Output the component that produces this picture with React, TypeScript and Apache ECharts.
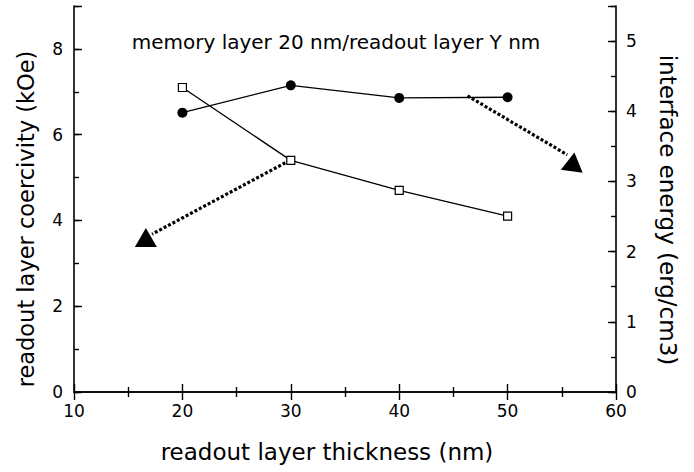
import { useEffect, useRef } from "react";
import * as echarts from "echarts";

// ---- data ----
const thickness = [20, 30, 40, 50];
const coercivity = [7.1, 5.4, 4.7, 4.1]; // kOe, left axis (open squares)
const interfaceEnergy = [3.98, 4.37, 4.19, 4.2]; // erg/cm3, right axis (filled circles)

// annotation arrows (data coordinates)
const leftArrowLine = [
  [29.9, 5.4],
  [17.2, 3.68],
];
const leftArrowHead = [16.63, 3.6];
const rightArrowLine = [
  [46.3, 4.22],
  [55.5, 3.38],
];
const rightArrowHead = [56.04, 3.28];

const xRange = [10, 60];
const leftRange = [0, 9];
const rightRange = [0, 5.5];

const titleText = "memory layer 20 nm/readout layer Y nm";
const xName = "readout layer thickness (nm)";
const leftName = "readout layer coercivity (kOe)";
const rightName = "interface energy (erg/cm3)";

const FONT = "DejaVu Sans";
const BLACK = "#000";

export default function App() {
  const ref = useRef<HTMLDivElement>(null);

  useEffect(() => {
    document.body.style.margin = "0";
    document.body.style.overflow = "hidden";
    if (!ref.current) return;
    const chart = echarts.init(ref.current, null, { renderer: "svg" });

    const axisLine = { show: true, lineStyle: { color: BLACK, width: 1.6 } };
    const labelStyle = { color: BLACK, fontSize: 17, fontFamily: FONT };

    const option: any = {
      animation: false,
      backgroundColor: "#fff",
      grid: { left: 74, right: 78, top: 6, bottom: 80, containLabel: false },
      xAxis: [
        {
          type: "value",
          position: "bottom",
          min: xRange[0],
          max: xRange[1],
          interval: 10,
          axisLine,
          axisTick: { show: true, inside: true, length: 8, lineStyle: { color: BLACK, width: 1.4 } },
          minorTick: { show: true, splitNumber: 2, length: 5, lineStyle: { color: BLACK, width: 1.4 } },
          splitLine: { show: false },
          minorSplitLine: { show: false },
          axisLabel: { ...labelStyle, margin: 10 },
        },
        {
          type: "value",
          position: "top",
          min: xRange[0],
          max: xRange[1],
          interval: 10,
          axisLine,
          axisTick: { show: true, inside: true, length: 8, lineStyle: { color: BLACK, width: 1.4 } },
          minorTick: { show: true, splitNumber: 2, length: 5, lineStyle: { color: BLACK, width: 1.4 } },
          splitLine: { show: false },
          axisLabel: { show: false },
        },
      ],
      yAxis: [
        {
          type: "value",
          position: "left",
          min: leftRange[0],
          max: leftRange[1],
          interval: 2,
          axisLine,
          axisTick: { show: true, inside: true, length: 8, lineStyle: { color: BLACK, width: 1.4 } },
          splitLine: { show: false },
          axisLabel: {
            ...labelStyle,
            margin: 11,
            formatter: (v: number) => (v % 2 === 0 ? String(v) : ""),
          },
        },
        {
          type: "value",
          position: "right",
          min: rightRange[0],
          max: rightRange[1],
          interval: 1,
          axisLine,
          axisTick: { show: true, inside: true, length: 8, lineStyle: { color: BLACK, width: 1.4 } },
          splitLine: { show: false },
          axisLabel: {
            ...labelStyle,
            margin: 10,
            formatter: (v: number) => (Number.isInteger(v) ? String(v) : ""),
          },
        },
        {
          type: "value",
          position: "left",
          min: leftRange[0],
          max: leftRange[1],
          interval: 1,
          axisLine: { show: false },
          axisTick: { show: true, inside: true, length: 5, lineStyle: { color: BLACK, width: 1.4 } },
          splitLine: { show: false },
          axisLabel: { show: false },
        },
        {
          type: "value",
          position: "right",
          min: rightRange[0],
          max: rightRange[1],
          interval: 0.5,
          axisLine: { show: false },
          axisTick: { show: true, inside: true, length: 5, lineStyle: { color: BLACK, width: 1.4 } },
          splitLine: { show: false },
          axisLabel: { show: false },
        },
      ],
      series: [
        {
          name: "coercivity",
          type: "line",
          xAxisIndex: 0,
          yAxisIndex: 0,
          data: thickness.map((x, i) => [x, coercivity[i]]),
          symbol: "rect",
          symbolSize: 8,
          lineStyle: { color: BLACK, width: 1.3 },
          itemStyle: { color: "#fff", borderColor: BLACK, borderWidth: 1.2 },
          z: 5,
        },
        {
          name: "interface energy",
          type: "line",
          xAxisIndex: 0,
          yAxisIndex: 1,
          data: thickness.map((x, i) => [x, interfaceEnergy[i]]),
          symbol: "circle",
          symbolSize: 10,
          lineStyle: { color: BLACK, width: 1.3 },
          itemStyle: { color: BLACK },
          z: 5,
        },
        {
          name: "arrowLeft",
          type: "line",
          yAxisIndex: 0,
          data: leftArrowLine,
          symbol: "none",
          lineStyle: { color: BLACK, width: 3.2, type: [3, 2] },
          z: 3,
        },
        {
          name: "arrowLeftHead",
          type: "scatter",
          yAxisIndex: 0,
          data: [leftArrowHead],
          symbol: "triangle",
          symbolSize: [22, 19],
          itemStyle: { color: BLACK, opacity: 1 },
          z: 4,
        },
        {
          name: "arrowRight",
          type: "line",
          yAxisIndex: 1,
          data: rightArrowLine,
          symbol: "none",
          lineStyle: { color: BLACK, width: 3.2, type: [3, 2] },
          z: 3,
        },
        {
          name: "arrowRightHead",
          type: "scatter",
          yAxisIndex: 1,
          data: [rightArrowHead],
          symbol: "triangle",
          symbolSize: [22, 19],
          symbolRotate: -8,
          itemStyle: { color: BLACK, opacity: 1 },
          z: 4,
        },
      ],
      graphic: [
        {
          type: "text",
          x: 336,
          y: 42,
          style: {
            text: titleText,
            fill: BLACK,
            fontSize: 20,
            fontFamily: FONT,
            align: "center",
            verticalAlign: "middle",
          },
        },
        {
          type: "text",
          x: 327,
          y: 452,
          style: {
            text: xName,
            fill: BLACK,
            fontSize: 23,
            fontFamily: FONT,
            align: "center",
            verticalAlign: "middle",
          },
        },
        {
          type: "text",
          x: 26,
          y: 219,
          rotation: Math.PI / 2,
          style: {
            text: leftName,
            fill: BLACK,
            fontSize: 22.5,
            fontFamily: FONT,
            align: "center",
            verticalAlign: "middle",
          },
        },
        {
          type: "text",
          x: 668,
          y: 210,
          rotation: -Math.PI / 2,
          style: {
            text: rightName,
            fill: BLACK,
            fontSize: 23,
            fontFamily: FONT,
            align: "center",
            verticalAlign: "middle",
          },
        },
      ],
    };

    chart.setOption(option);
    return () => chart.dispose();
  }, []);

  return <div ref={ref} style={{ width: 694, height: 472 }} />;
}
